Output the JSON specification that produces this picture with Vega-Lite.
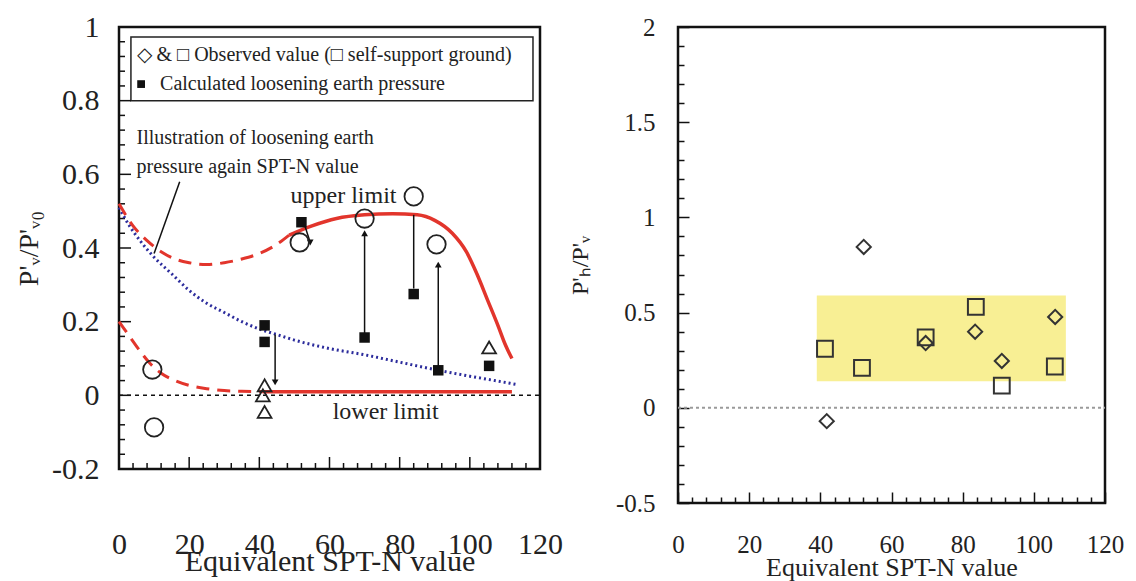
{
  "$schema": "https://vega.github.io/schema/vega-lite/v6.json",
  "padding": {"left": 14, "top": 10, "right": 0, "bottom": 0},
  "spacing": 3,
  "background": "white",
  "config": {
    "view": {"stroke": "#111", "strokeWidth": 2.5},
    "font": "Liberation Serif",
    "axis": {
      "domain": false, "grid": false,
      "labelFont": "Liberation Serif", "titleFont": "Liberation Serif",
      "labelColor": "#222", "titleColor": "#222", "titleFontWeight": "normal",
      "tickColor": "#111", "tickWidth": 1.5, "tickSize": -6,
      "labelOverlap": false, "labelFlush": false, "labelBound": false
    }
  },
  "datasets": {
    "curves": [
      {"s": "upper_dash", "x": 0, "y": 0.52}, {"s": "upper_dash", "x": 4, "y": 0.46}, {"s": "upper_dash", "x": 8, "y": 0.42}, {"s": "upper_dash", "x": 12, "y": 0.39}, {"s": "upper_dash", "x": 16, "y": 0.37}, {"s": "upper_dash", "x": 20, "y": 0.36}, {"s": "upper_dash", "x": 25, "y": 0.355}, {"s": "upper_dash", "x": 30, "y": 0.36}, {"s": "upper_dash", "x": 35, "y": 0.37}, {"s": "upper_dash", "x": 40, "y": 0.385}, {"s": "upper_dash", "x": 45, "y": 0.41}, {"s": "upper_dash", "x": 48.5, "y": 0.435},
      {"s": "upper_solid", "x": 48.5, "y": 0.435}, {"s": "upper_solid", "x": 55, "y": 0.46}, {"s": "upper_solid", "x": 62, "y": 0.48}, {"s": "upper_solid", "x": 70, "y": 0.49}, {"s": "upper_solid", "x": 78, "y": 0.493}, {"s": "upper_solid", "x": 85, "y": 0.49}, {"s": "upper_solid", "x": 90, "y": 0.475}, {"s": "upper_solid", "x": 95, "y": 0.44}, {"s": "upper_solid", "x": 99, "y": 0.39}, {"s": "upper_solid", "x": 102, "y": 0.33}, {"s": "upper_solid", "x": 105, "y": 0.26}, {"s": "upper_solid", "x": 108, "y": 0.19}, {"s": "upper_solid", "x": 110, "y": 0.14}, {"s": "upper_solid", "x": 112, "y": 0.1},
      {"s": "lower_dash", "x": 0, "y": 0.2}, {"s": "lower_dash", "x": 3, "y": 0.16}, {"s": "lower_dash", "x": 6, "y": 0.12}, {"s": "lower_dash", "x": 9, "y": 0.085}, {"s": "lower_dash", "x": 12, "y": 0.06}, {"s": "lower_dash", "x": 16, "y": 0.04}, {"s": "lower_dash", "x": 20, "y": 0.027}, {"s": "lower_dash", "x": 25, "y": 0.018}, {"s": "lower_dash", "x": 30, "y": 0.013}, {"s": "lower_dash", "x": 35, "y": 0.011}, {"s": "lower_dash", "x": 41, "y": 0.01},
      {"s": "lower_solid", "x": 41, "y": 0.01}, {"s": "lower_solid", "x": 112, "y": 0.01},
      {"s": "blue", "x": 0, "y": 0.51}, {"s": "blue", "x": 3, "y": 0.46}, {"s": "blue", "x": 6, "y": 0.42}, {"s": "blue", "x": 10, "y": 0.375}, {"s": "blue", "x": 15, "y": 0.33}, {"s": "blue", "x": 20, "y": 0.285}, {"s": "blue", "x": 25, "y": 0.25}, {"s": "blue", "x": 30, "y": 0.225}, {"s": "blue", "x": 35, "y": 0.2}, {"s": "blue", "x": 40, "y": 0.18}, {"s": "blue", "x": 45, "y": 0.165}, {"s": "blue", "x": 50, "y": 0.15}, {"s": "blue", "x": 60, "y": 0.127}, {"s": "blue", "x": 70, "y": 0.11}, {"s": "blue", "x": 80, "y": 0.09}, {"s": "blue", "x": 90, "y": 0.07}, {"s": "blue", "x": 100, "y": 0.052}, {"s": "blue", "x": 106, "y": 0.042}, {"s": "blue", "x": 113, "y": 0.03}
    ],
    "obs": [
      {"kind": "circle", "x": 9.5, "y": 0.07}, {"kind": "circle", "x": 10, "y": -0.087}, {"kind": "circle", "x": 51.5, "y": 0.415}, {"kind": "circle", "x": 70, "y": 0.48}, {"kind": "circle", "x": 84, "y": 0.54}, {"kind": "circle", "x": 90.5, "y": 0.41},
      {"kind": "triangle", "x": 41.5, "y": 0.027}, {"kind": "triangle", "x": 41, "y": 0.0}, {"kind": "triangle", "x": 41.5, "y": -0.045}, {"kind": "triangle", "x": 105.5, "y": 0.13},
      {"kind": "calc", "x": 41.5, "y": 0.19}, {"kind": "calc", "x": 41.5, "y": 0.145}, {"kind": "calc", "x": 52, "y": 0.47}, {"kind": "calc", "x": 70, "y": 0.157}, {"kind": "calc", "x": 84, "y": 0.275}, {"kind": "calc", "x": 91, "y": 0.068}, {"kind": "calc", "x": 105.5, "y": 0.08},
      {"kind": "legend", "x": 6.3, "y": 0.845}
    ],
    "lticks": [
      {"ax": "y", "major": true, "x": 0, "y": -0.2}, {"ax": "y", "major": false, "x": 0, "y": -0.16}, {"ax": "y", "major": false, "x": 0, "y": -0.12}, {"ax": "y", "major": false, "x": 0, "y": -0.08}, {"ax": "y", "major": false, "x": 0, "y": -0.04},
      {"ax": "y", "major": true, "x": 0, "y": 0}, {"ax": "y", "major": false, "x": 0, "y": 0.04}, {"ax": "y", "major": false, "x": 0, "y": 0.08}, {"ax": "y", "major": false, "x": 0, "y": 0.12}, {"ax": "y", "major": false, "x": 0, "y": 0.16},
      {"ax": "y", "major": true, "x": 0, "y": 0.2}, {"ax": "y", "major": false, "x": 0, "y": 0.24}, {"ax": "y", "major": false, "x": 0, "y": 0.28}, {"ax": "y", "major": false, "x": 0, "y": 0.32}, {"ax": "y", "major": false, "x": 0, "y": 0.36},
      {"ax": "y", "major": true, "x": 0, "y": 0.4}, {"ax": "y", "major": false, "x": 0, "y": 0.44}, {"ax": "y", "major": false, "x": 0, "y": 0.48}, {"ax": "y", "major": false, "x": 0, "y": 0.52}, {"ax": "y", "major": false, "x": 0, "y": 0.56},
      {"ax": "y", "major": true, "x": 0, "y": 0.6}, {"ax": "y", "major": false, "x": 0, "y": 0.64}, {"ax": "y", "major": false, "x": 0, "y": 0.68}, {"ax": "y", "major": false, "x": 0, "y": 0.72}, {"ax": "y", "major": false, "x": 0, "y": 0.76},
      {"ax": "y", "major": true, "x": 0, "y": 0.8}, {"ax": "y", "major": false, "x": 0, "y": 0.84}, {"ax": "y", "major": false, "x": 0, "y": 0.88}, {"ax": "y", "major": false, "x": 0, "y": 0.92}, {"ax": "y", "major": false, "x": 0, "y": 0.96},
      {"ax": "x", "major": false, "x": 4, "y": -0.2}, {"ax": "x", "major": false, "x": 8, "y": -0.2}, {"ax": "x", "major": false, "x": 12, "y": -0.2}, {"ax": "x", "major": false, "x": 16, "y": -0.2}, {"ax": "x", "major": true, "x": 20, "y": -0.2},
      {"ax": "x", "major": false, "x": 24, "y": -0.2}, {"ax": "x", "major": false, "x": 28, "y": -0.2}, {"ax": "x", "major": false, "x": 32, "y": -0.2}, {"ax": "x", "major": false, "x": 36, "y": -0.2}, {"ax": "x", "major": true, "x": 40, "y": -0.2},
      {"ax": "x", "major": false, "x": 44, "y": -0.2}, {"ax": "x", "major": false, "x": 48, "y": -0.2}, {"ax": "x", "major": false, "x": 52, "y": -0.2}, {"ax": "x", "major": false, "x": 56, "y": -0.2}, {"ax": "x", "major": true, "x": 60, "y": -0.2},
      {"ax": "x", "major": false, "x": 64, "y": -0.2}, {"ax": "x", "major": false, "x": 68, "y": -0.2}, {"ax": "x", "major": false, "x": 72, "y": -0.2}, {"ax": "x", "major": false, "x": 76, "y": -0.2}, {"ax": "x", "major": true, "x": 80, "y": -0.2},
      {"ax": "x", "major": false, "x": 84, "y": -0.2}, {"ax": "x", "major": false, "x": 88, "y": -0.2}, {"ax": "x", "major": false, "x": 92, "y": -0.2}, {"ax": "x", "major": false, "x": 96, "y": -0.2}, {"ax": "x", "major": true, "x": 100, "y": -0.2},
      {"ax": "x", "major": false, "x": 104, "y": -0.2}, {"ax": "x", "major": false, "x": 108, "y": -0.2}, {"ax": "x", "major": false, "x": 112, "y": -0.2}, {"ax": "x", "major": false, "x": 116, "y": -0.2}
    ],
    "arrows": [
      {"x": 44.5, "y": 0.165, "x2": 44.5, "y2": 0.035},
      {"x": 70, "y": 0.165, "x2": 70, "y2": 0.44},
      {"x": 84, "y": 0.49, "x2": 84, "y2": 0.29},
      {"x": 91, "y": 0.075, "x2": 91, "y2": 0.355},
      {"x": 53, "y": 0.46, "x2": 54.5, "y2": 0.415},
      {"x": 17.3, "y": 0.58, "x2": 10, "y2": 0.385}
    ],
    "heads": [
      {"x": 44.5, "y": 0.035, "dir": "down"},
      {"x": 70, "y": 0.44, "dir": "up"},
      {"x": 91, "y": 0.355, "dir": "up"},
      {"x": 54.5, "y": 0.415, "dir": "down"}
    ],
    "notes": [
      {"kind": "note", "x": 5, "y": 0.7, "text": "Illustration of loosening earth"},
      {"kind": "note", "x": 5, "y": 0.62, "text": "pressure again SPT-N value"},
      {"kind": "label", "x": 64, "y": 0.54, "text": "upper limit"},
      {"kind": "label", "x": 76, "y": -0.045, "text": "lower limit"},
      {"kind": "legend", "x": 5, "y": 0.925, "text": "◇ & □ Observed value (□ self-support ground)"},
      {"kind": "legend", "x": 11.7, "y": 0.845, "text": "Calculated loosening earth pressure"}
    ],
    "boxes": [
      {"panel": "left", "x": 3.4, "x2": 118, "y": 0.8, "y2": 0.973},
      {"panel": "right", "x": 39, "x2": 109, "y": 0.14, "y2": 0.59}
    ],
    "zeros": [
      {"panel": "left", "x": 0, "x2": 120, "y": 0},
      {"panel": "right", "x": 0, "x2": 120, "y": 0}
    ],
    "right": [
      {"kind": "square", "x": 41.3, "y": 0.31}, {"kind": "square", "x": 51.7, "y": 0.21}, {"kind": "square", "x": 69.6, "y": 0.37}, {"kind": "square", "x": 83.7, "y": 0.53}, {"kind": "square", "x": 91, "y": 0.116}, {"kind": "square", "x": 105.9, "y": 0.217},
      {"kind": "diamond", "x": 41.8, "y": -0.07}, {"kind": "diamond", "x": 52.2, "y": 0.845}, {"kind": "diamond", "x": 69.6, "y": 0.34}, {"kind": "diamond", "x": 83.5, "y": 0.4}, {"kind": "diamond", "x": 91, "y": 0.246}, {"kind": "diamond", "x": 106, "y": 0.477}
    ]
  },
  "hconcat": [
    {
      "width": 421,
      "height": 442,
      "encoding": {
        "x": {
          "field": "x", "type": "quantitative",
          "scale": {"domain": [0, 120], "nice": false, "zero": false},
          "title": "Equivalent SPT-N value",
          "axis": {
            "values": [0,20,40,60,80,100,120],
            "ticks": false,
            "labelFontSize": 30, "titleFontSize": 30, "labelPadding": 60, "titlePadding": -13
          }
        },
        "y": {
          "field": "y", "type": "quantitative",
          "scale": {"domain": [-0.2, 1], "nice": false, "zero": false},
          "title": "P'ᵥ/P'ᵥ₀",
          "axis": {
            "values": [-0.2,0,0.2,0.4,0.6,0.8,1],
            "ticks": false,
            "labelExpr": "(datum.value<0 ? '-' : '') + format(abs(datum.value), '.1~f')",
            "labelFontSize": 30, "titleFontSize": 28, "labelPadding": 20, "titlePadding": 8
          }
        }
      },
      "layer": [
        {
          "data": {"name": "boxes"},
          "transform": [{"filter": "datum.panel === 'left'"}],
          "mark": {"type": "rect", "fill": "white", "stroke": "#222", "strokeWidth": 1.5},
          "encoding": {"x2": {"field": "x2"}, "y2": {"field": "y2"}}
        },
        {
          "data": {"name": "lticks"},
          "transform": [{"filter": "datum.ax === 'y' && !datum.major"}],
          "mark": {"type": "tick", "orient": "horizontal", "size": 6, "thickness": 1.5, "xOffset": 3, "color": "#111", "opacity": 1}
        },
        {
          "data": {"name": "lticks"},
          "transform": [{"filter": "datum.ax === 'y' && datum.major"}],
          "mark": {"type": "tick", "orient": "horizontal", "size": 12, "thickness": 1.5, "xOffset": 6, "color": "#111", "opacity": 1}
        },
        {
          "data": {"name": "lticks"},
          "transform": [{"filter": "datum.ax === 'x' && !datum.major"}],
          "mark": {"type": "tick", "orient": "vertical", "size": 6, "thickness": 1.5, "yOffset": -3, "color": "#111", "opacity": 1}
        },
        {
          "data": {"name": "lticks"},
          "transform": [{"filter": "datum.ax === 'x' && datum.major"}],
          "mark": {"type": "tick", "orient": "vertical", "size": 12, "thickness": 1.5, "yOffset": -6, "color": "#111", "opacity": 1}
        },
        {
          "data": {"name": "zeros"},
          "transform": [{"filter": "datum.panel === 'left'"}],
          "mark": {"type": "rule", "color": "#111", "strokeWidth": 1.5, "strokeDash": [4, 4]},
          "encoding": {"x2": {"field": "x2"}}
        },
        {
          "data": {"name": "curves"},
          "transform": [{"filter": "datum.s === 'blue'"}],
          "mark": {"type": "line", "color": "#2c2c9c", "strokeWidth": 3, "strokeDash": [2, 3], "interpolate": "monotone"},
          "encoding": {"order": {"field": "x", "type": "quantitative"}}
        },
        {
          "data": {"name": "curves"},
          "transform": [{"filter": "datum.s === 'upper_dash' || datum.s === 'lower_dash'"}],
          "mark": {"type": "line", "color": "#e2352c", "strokeWidth": 3, "strokeDash": [13, 8], "interpolate": "monotone"},
          "encoding": {"detail": {"field": "s"}, "order": {"field": "x", "type": "quantitative"}}
        },
        {
          "data": {"name": "curves"},
          "transform": [{"filter": "datum.s === 'upper_solid' || datum.s === 'lower_solid'"}],
          "mark": {"type": "line", "color": "#e2352c", "strokeWidth": 3.5, "interpolate": "monotone"},
          "encoding": {"detail": {"field": "s"}, "order": {"field": "x", "type": "quantitative"}}
        },
        {
          "data": {"name": "arrows"},
          "mark": {"type": "rule", "color": "#111", "strokeWidth": 1.5},
          "encoding": {"x2": {"field": "x2"}, "y2": {"field": "y2"}}
        },
        {
          "data": {"name": "heads"},
          "mark": {"type": "point", "filled": true, "color": "#111", "size": 45, "opacity": 1},
          "encoding": {"shape": {"field": "dir", "type": "nominal", "scale": {"domain": ["up", "down"], "range": ["triangle-up", "triangle-down"]}, "legend": null}}
        },
        {
          "data": {"name": "obs"},
          "transform": [{"filter": "datum.kind === 'circle'"}],
          "mark": {"type": "point", "shape": "circle", "filled": false, "stroke": "#222", "strokeWidth": 1.8, "size": 340, "opacity": 1}
        },
        {
          "data": {"name": "obs"},
          "transform": [{"filter": "datum.kind === 'triangle'"}],
          "mark": {"type": "point", "shape": "triangle-up", "filled": false, "stroke": "#222", "strokeWidth": 1.8, "size": 190, "opacity": 1}
        },
        {
          "data": {"name": "obs"},
          "transform": [{"filter": "datum.kind === 'calc'"}],
          "mark": {"type": "point", "shape": "square", "filled": true, "color": "#111", "size": 110, "opacity": 1}
        },
        {
          "data": {"name": "obs"},
          "transform": [{"filter": "datum.kind === 'legend'"}],
          "mark": {"type": "point", "shape": "square", "filled": true, "color": "#111", "size": 60, "opacity": 1}
        },
        {
          "data": {"name": "notes"},
          "transform": [{"filter": "datum.kind === 'note'"}],
          "mark": {"type": "text", "align": "left", "baseline": "middle", "font": "Liberation Serif", "fontSize": 20, "color": "#222"},
          "encoding": {"text": {"field": "text"}}
        },
        {
          "data": {"name": "notes"},
          "transform": [{"filter": "datum.kind === 'legend'"}],
          "mark": {"type": "text", "align": "left", "baseline": "middle", "font": "Liberation Serif", "fontSize": 20, "color": "#222"},
          "encoding": {"text": {"field": "text"}}
        },
        {
          "data": {"name": "notes"},
          "transform": [{"filter": "datum.kind === 'label'"}],
          "mark": {"type": "text", "align": "center", "baseline": "middle", "font": "Liberation Serif", "fontSize": 24, "color": "#222"},
          "encoding": {"text": {"field": "text"}}
        }
      ]
    },
    {
      "width": 427,
      "height": 476,
      "encoding": {
        "x": {
          "field": "x", "type": "quantitative",
          "scale": {"domain": [0, 120], "nice": false, "zero": false},
          "title": "Equivalent SPT-N value",
          "axis": {
            "values": [0,4,8,12,16,20,24,28,32,36,40,44,48,52,56,60,64,68,72,76,80,84,88,92,96,100,104,108,112,116,120],
            "labelExpr": "datum.value % 20 === 0 ? datum.label : ''",
            "labelFontSize": 25, "titleFontSize": 26, "labelPadding": 35, "titlePadding": -3,
            "encoding": {"ticks": {"y2": {"value": {"expr": "datum.value % 20 === 0 ? -11 : -6"}}}}
          }
        },
        "y": {
          "field": "y", "type": "quantitative",
          "scale": {"domain": [-0.5, 2], "nice": false, "zero": false},
          "title": "P'ₕ/P'ᵥ",
          "axis": {
            "values": [-0.5,-0.4,-0.3,-0.2,-0.1,0,0.1,0.2,0.3,0.4,0.5,0.6,0.7,0.8,0.9,1,1.1,1.2,1.3,1.4,1.5,1.6,1.7,1.8,1.9,2],
            "labelExpr": "abs(datum.value*2-round(datum.value*2))<0.001 ? (datum.value<0 ? '-' : '') + format(abs(datum.value), '.1~f') : ''",
            "labelFontSize": 25, "titleFontSize": 24, "labelPadding": 29, "titlePadding": 23,
            "encoding": {"ticks": {"x2": {"value": {"expr": "abs(datum.value*2-round(datum.value*2))<0.001 ? 11 : 6"}}}}
          }
        }
      },
      "layer": [
        {
          "data": {"name": "boxes"},
          "transform": [{"filter": "datum.panel === 'right'"}],
          "mark": {"type": "rect", "fill": "#f8ef94", "stroke": null},
          "encoding": {"x2": {"field": "x2"}, "y2": {"field": "y2"}}
        },
        {
          "data": {"name": "zeros"},
          "transform": [{"filter": "datum.panel === 'right'"}],
          "mark": {"type": "rule", "color": "#9a9a9a", "strokeWidth": 2, "strokeDash": [3, 3]},
          "encoding": {"x2": {"field": "x2"}}
        },
        {
          "data": {"name": "right"},
          "transform": [{"filter": "datum.kind === 'square'"}],
          "mark": {"type": "point", "shape": "square", "filled": false, "stroke": "#333", "strokeWidth": 2, "size": 250, "opacity": 1}
        },
        {
          "data": {"name": "right"},
          "transform": [{"filter": "datum.kind === 'diamond'"}],
          "mark": {"type": "point", "shape": "diamond", "filled": false, "stroke": "#333", "strokeWidth": 2, "size": 200, "opacity": 1}
        }
      ]
    }
  ]
}
